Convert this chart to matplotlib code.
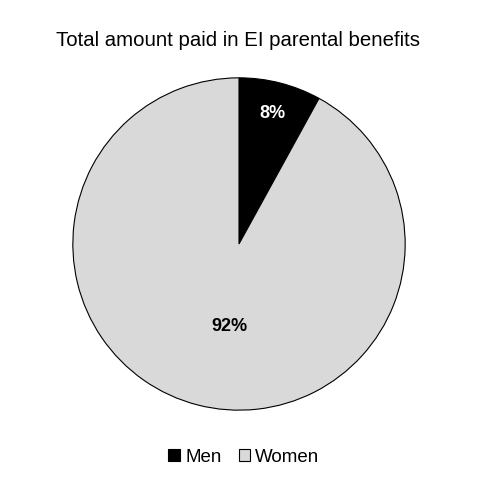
import matplotlib
matplotlib.use("Agg")
import matplotlib.pyplot as plt
import numpy as np
from matplotlib.patches import Patch

categories = ["Men", "Women"]
values = [8, 92]
colors = ["#000000", "#d9d9d9"]
label_colors = ["white", "black"]
title = "Total amount paid in EI parental benefits"

plt.rcParams['font.family'] = ['Liberation Sans', 'DejaVu Sans']

fig = plt.figure(figsize=(4.83, 4.85), dpi=100)
cx, cy, r = 239, 245, 167
ax = fig.add_axes([(cx - r) / 483, (485 - cy - r) / 485, 2 * r / 483, 2 * r / 485])
wedges, texts, autotexts = ax.pie(values, colors=colors, startangle=90, counterclock=False,
                                  autopct=lambda p: f"{p:.0f}%", pctdistance=0.5,
                                  wedgeprops=dict(edgecolor="black", linewidth=0.8),
                                  textprops=dict(fontsize=13, fontweight="bold"))
dist = [0.82, 0.49]
for w, t, d, c in zip(wedges, autotexts, dist, label_colors):
    ang = np.deg2rad((w.theta1 + w.theta2) / 2)
    t.set_position((d * np.cos(ang), d * np.sin(ang)))
    t.set_color(c)
autotexts[1].set_position((-0.06, -0.49))
ax.set_xlim(-1.005, 1.005)
ax.set_ylim(-1.005, 1.005)
ax.axis("off")

fig.text(238 / 483, 1 - 40 / 485, title, ha="center", va="center", fontsize=14.7)

handles = [Patch(facecolor=c, edgecolor="black", linewidth=0.8) for c in colors]
fig.legend(handles, categories, loc="center", bbox_to_anchor=(244 / 483, 1 - 458 / 485),
           ncol=2, frameon=False, fontsize=13.5, handlelength=0.6, handleheight=0.6,
           handletextpad=0.3, columnspacing=0.9)

fig.savefig("out.png", dpi=100)
